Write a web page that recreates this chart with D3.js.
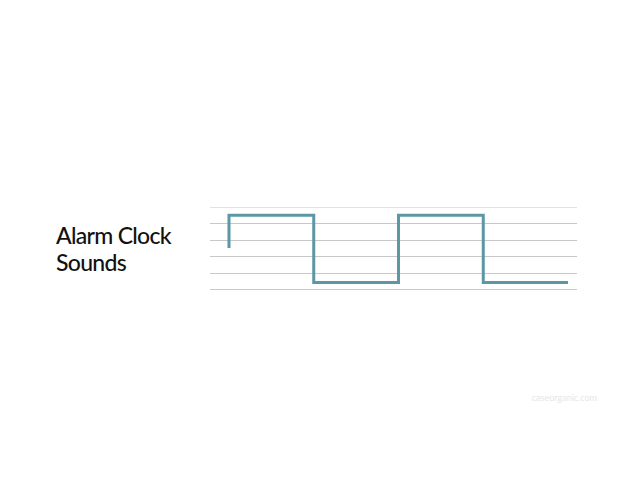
<!DOCTYPE html>
<html><head><meta charset="utf-8">
<script src="https://cdn.jsdelivr.net/npm/d3@7"></script>
<style>html,body{margin:0;padding:0;background:#fff;}</style>
</head><body>
<svg id="c" width="638" height="493"></svg>
<script>
const times = [0, 0, 1, 2, 3, 4];
const values = [2.5, 4.5, 0.4, 4.5, 0.4, 0.4];
const gridValues = [0, 1, 2, 3, 4, 5];
const titleLines = ["Alarm Clock", "Sounds"];
const credit = "caseorganic.com";

const svg = d3.select("#c");
const x = d3.scaleLinear().domain([-0.224, 4.106]).range([210, 577]);
const y = d3.scaleLinear().domain([0, 5]).range([289, 207]);

svg.append("g").selectAll("line").data(gridValues).join("line")
  .attr("x1", x(-0.224)).attr("x2", x(4.106))
  .attr("y1", d => Math.round(y(d)) + 0.5).attr("y2", d => Math.round(y(d)) + 0.5)
  .attr("stroke", d => d === 5 ? "#e2e2e2" : "#c8c8c8").attr("stroke-width", 1);

const pts = times.map((t, i) => [t, values[i]]);
const line = d3.line().x(d => x(d[0])).y(d => y(d[1])).curve(d3.curveStepAfter);
svg.append("path").attr("d", line(pts)).attr("fill", "none")
  .attr("stroke", "#5b97a4").attr("stroke-width", 3).attr("stroke-linejoin", "miter");

svg.append("g").selectAll("text").data(titleLines).join("text")
  .attr("x", 56).attr("y", (d, i) => 244 + i * 27)
  .attr("font-family", "Lato, 'Noto Sans', sans-serif").attr("font-size", 23).attr("font-weight", 500)
  .attr("letter-spacing", "-0.7").attr("fill", "#111").text(d => d);

svg.append("text").attr("x", 597).attr("y", 401).attr("text-anchor", "end")
  .attr("font-family", "Lato, sans-serif").attr("font-size", 9).attr("fill", "#e6e6e6").text(credit);
</script>
</body></html>
